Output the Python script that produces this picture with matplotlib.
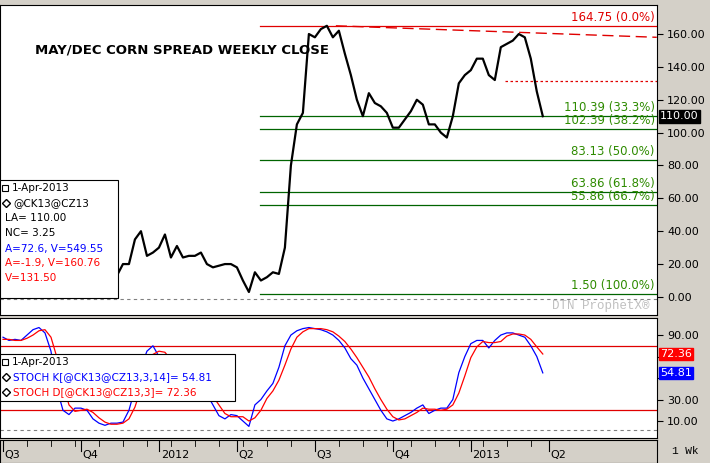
import matplotlib
matplotlib.use("Agg")
import matplotlib.pyplot as plt
import numpy as np

weeks = np.arange(91)
price_start = 19
price = [13,20,20,35,40,25,27,30,38,24,31,24,25,25,27,20,18,19,20,20,18,10,3,15,10,12,15,14,30,80,105,112,
         160,158,163,165,158,162,148,135,120,110,124,118,116,112,103,103,108,113,120,117,105,105,100,97,110,
         130,135,138,145,145,135,132,152,154,156,160,158,145,125,110]
stoch_k = [88,85,86,85,90,95,97,92,75,40,20,16,22,22,20,12,8,6,8,8,9,20,40,60,75,80,70,72,60,55,58,50,45,40,35,25,
           15,12,16,15,10,5,25,30,38,45,60,80,90,94,96,97,96,95,93,90,85,78,68,62,50,40,30,20,12,10,12,15,18,22,25,
           17,20,22,22,30,55,70,82,85,85,78,85,90,92,92,90,88,80,70,54.81]
stoch_d = [86,86,85,85,87,90,94,95,88,69,45,25,19,20,21,18,13,9,7,7,8,12,23,40,58,72,75,74,67,62,58,54,51,45,40,33,
           25,17,14,14,14,10,13,20,31,38,48,62,77,88,93,96,96,96,95,93,89,84,77,69,60,51,40,30,21,14,11,12,15,18,22,
           21,21,20,21,25,36,52,69,79,84,83,83,84,89,91,91,90,86,79,72.36]
fib_levels = [110.39,102.39,83.13,63.86,55.86,1.50]
fib_labels = ["110.39 (33.3%)","102.39 (38.2%)","83.13 (50.0%)","63.86 (61.8%)","55.86 (66.7%)","1.50 (100.0%)"]
high_level = 164.75
mid_level = 131.50
qtr_pos = [0,13,26,39,52,65,78,91]
qtr_labels = ["Q3","Q4","2012","Q2","Q3","Q4","2013","Q2"]
main_ticks = [0,20,40,60,80,100,120,140,160]
stoch_ticks = [10,30,50,70,90]

def px2w(px): return (px-3)/6.0
xl = (px2w(0), px2w(657))

fig = plt.figure(figsize=(7.1,4.63), dpi=100, facecolor="#d4d0c8")
ax = fig.add_axes([0.0, 0.320, 0.925, 0.669])
ax2 = fig.add_axes([0.0, 0.054, 0.925, 0.259])
for a in (ax, ax2):
    a.set_facecolor("white")
    a.set_xlim(*xl)
    a.yaxis.tick_right()
    a.tick_params(axis='y', labelsize=8, direction='out', length=4)
    a.set_xticks([])
    for s in a.spines.values(): s.set_color("black")

def legend_rows(a, top_px, bot_px, right_px, rows, y_ax_px_top, y_ax_px_h):
    # convert figure px to axes fraction
    def fy(p): return (y_ax_px_top + y_ax_px_h - p) / y_ax_px_h
    a.add_patch(plt.Rectangle((0.0, fy(bot_px)), right_px/657, fy(top_px)-fy(bot_px), transform=a.transAxes,
                              facecolor="white", edgecolor="black", lw=0.8, zorder=10))
    for ypx, sym, txt, col in rows:
        if sym == "sq":
            a.plot([5/657], [fy(ypx)], marker="s", ms=5, mfc="white", mec="black", mew=0.8,
                   transform=a.transAxes, zorder=11, clip_on=False)
            a.text(12/657, fy(ypx), txt, transform=a.transAxes, fontsize=7.5, color=col, va="center", zorder=11)
        elif sym == "dia":
            a.plot([6/657], [fy(ypx)], marker="D", ms=4, mfc="white", mec="black", mew=1,
                   transform=a.transAxes, zorder=11, clip_on=False)
            a.text(13/657, fy(ypx), txt, transform=a.transAxes, fontsize=7.5, color=col, va="center", zorder=11)
        else:
            a.text(5/657, fy(ypx), txt, transform=a.transAxes, fontsize=7.5, color=col, va="center", zorder=11)

ax.set_ylim(-10.9, 177.6)
ax.set_yticks(main_ticks)
ax.set_yticklabels([f"{v:.2f}" for v in main_ticks])
pw = weeks[price_start:price_start+len(price)]
ax.plot(pw, price, color="black", lw=1.6, zorder=5)
x0 = px2w(260)
for lv, lb in zip(fib_levels, fib_labels):
    ax.plot([x0, xl[1]], [lv, lv], color="#006400", lw=0.9)
    ax.text(px2w(655), lv+1.2, lb, color="#2e8b00", fontsize=8.5, ha="right", va="bottom")
ax.plot([x0, xl[1]], [high_level]*2, color="#e00000", lw=0.9)
ax.text(px2w(655), high_level+1.2, "164.75 (0.0%)", color="#e00000", fontsize=8.5, ha="right", va="bottom")
ax.plot([px2w(336), xl[1]], [165, 158], color="#e00000", lw=1, ls=(0,(8,4)))
ax.plot([px2w(505), xl[1]], [mid_level]*2, color="#e00000", lw=0.9, ls=(0,(2,2)))
ax.axhline(-1.5, color="gray", lw=0.8, ls=(0,(3,3)))
ax.text(px2w(35), 150, "MAY/DEC CORN SPREAD WEEKLY CLOSE", fontsize=9.5, fontweight="bold", va="center")
ax.text(px2w(650), -5.5, "DTN ProphetX®", color="#c0c0c0", fontsize=9, family="Liberation Mono", ha="right", va="center")
ax.text(1.005, 110, "110.00", transform=ax.get_yaxis_transform(), color="white", fontsize=8, va="center",
        bbox=dict(facecolor="black", edgecolor="black", pad=1), clip_on=False)
legend_rows(ax, 180, 298, 118, [
    (188, "sq", "1-Apr-2013", "black"),
    (203, "dia", "@CK13@CZ13", "black"),
    (218, None, "LA= 110.00", "black"),
    (233, None, "NC= 3.25", "black"),
    (249, None, "A=72.6, V=549.55", "blue"),
    (263, None, "A=-1.9, V=160.76", "red"),
    (278, None, "V=131.50", "red")], 5, 310)

ax2.set_ylim(-5.8, 105.8)
ax2.set_yticks(stoch_ticks)
ax2.set_yticklabels(["10.00","30.00","","","90.00"])
ax2.axhline(80, color="#e00000", lw=0.9)
ax2.axhline(20, color="#e00000", lw=0.9)
ax2.axhline(2, color="gray", lw=0.8, ls=(0,(3,3)))
ax2.plot(weeks, stoch_k, color="blue", lw=0.9, zorder=4)
ax2.plot(weeks, stoch_d, color="red", lw=0.9, zorder=5)
ax2.text(1.005, 72.36, "72.36", transform=ax2.get_yaxis_transform(), color="white", fontsize=8, va="center",
         bbox=dict(facecolor="red", edgecolor="red", pad=1), clip_on=False)
ax2.text(1.005, 54.81, "54.81", transform=ax2.get_yaxis_transform(), color="white", fontsize=8, va="center",
         bbox=dict(facecolor="blue", edgecolor="blue", pad=1), clip_on=False)
legend_rows(ax2, 354, 401, 235, [
    (362, "sq", "1-Apr-2013", "black"),
    (377, "dia", "STOCH K[@CK13@CZ13,3,14]= 54.81", "blue"),
    (392, "dia", "STOCH D[@CK13@CZ13,3]= 72.36", "red")], 318, 120)

ax3 = fig.add_axes([0.0, 0.0, 0.925, 0.05])
ax3.set_facecolor("#d4d0c8")
ax3.set_xlim(*xl); ax3.set_ylim(0,1); ax3.set_yticks([])
ax3.set_xticks([])
for w in range(0, 91, 4):
    ax3.plot([w, w], [1, 0.75], color="black", lw=0.6)
for p, l in zip(qtr_pos, qtr_labels):
    ax3.plot([p, p], [1, 0.5], color="black", lw=0.8)
    ax3.text(p+0.3, 0.35, l, fontsize=8, va="center")
fig.text(0.965, 0.025, "1 Wk", fontsize=8, family="Liberation Mono", ha="center", va="center")
fig.savefig("out.png", dpi=100, facecolor=fig.get_facecolor())
